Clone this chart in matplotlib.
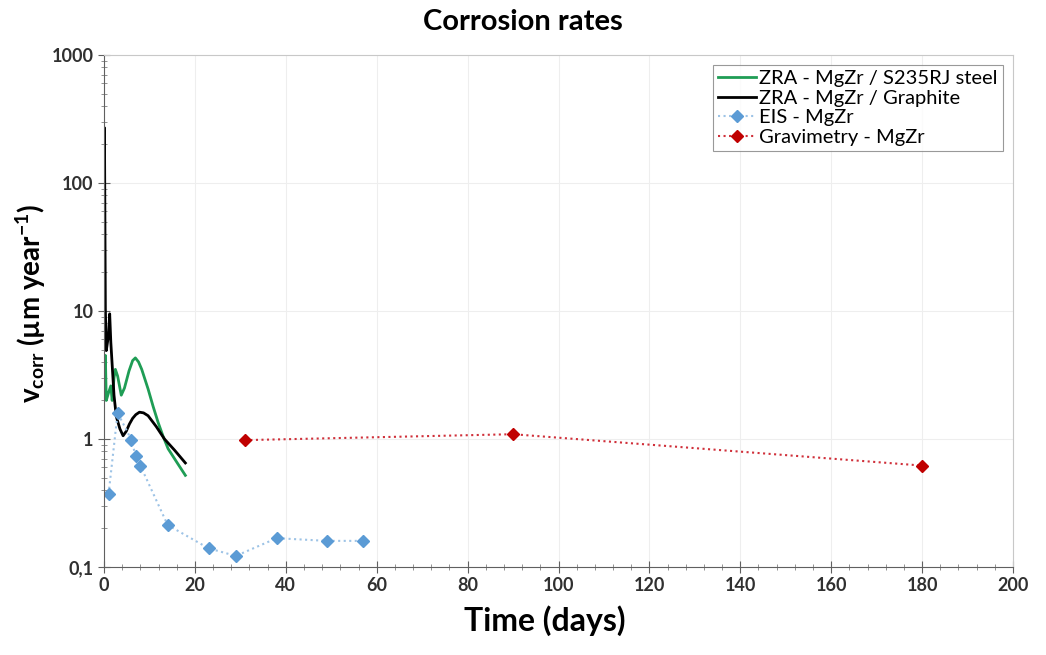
import matplotlib.pyplot as plt
from matplotlib.ticker import FixedLocator, MultipleLocator, LogLocator, NullFormatter

plt.rcParams['font.family'] = ['Lato', 'DejaVu Sans']
plt.rcParams['mathtext.fontset'] = 'custom'
plt.rcParams['mathtext.rm'] = 'Lato:bold'
plt.rcParams['mathtext.it'] = 'Lato:bold'
plt.rcParams['mathtext.bf'] = 'Lato:bold'

# ZRA - MgZr / S235RJ steel (green)
zra_steel_days = [0.0, 0.3, 0.5, 1.0, 1.5, 1.8, 2.2, 2.5, 3.0, 3.8, 4.5, 5.5, 6.3, 6.9, 7.6, 8.3, 9.7, 10.8, 11.9, 13.0, 14.1, 16.0, 17.9]
zra_steel_vals = [2.2, 4.5, 2.0, 2.3, 2.6, 2.0, 3.0, 3.5, 3.1, 2.2, 2.5, 3.4, 4.1, 4.3, 4.0, 3.5, 2.46, 1.8, 1.35, 1.05, 0.84, 0.66, 0.52]

# ZRA - MgZr / Graphite (black)
zra_graph_days = [0.0, 0.1, 0.3, 0.5, 1.0, 1.25, 1.5, 2.2, 2.7, 3.5, 4.2, 4.9, 5.6, 6.3, 7.0, 7.8, 8.7, 9.7, 11.5, 13.3, 15.5, 17.9]
zra_graph_vals = [5.0, 270, 10.4, 4.9, 6.5, 9.5, 5.7, 2.2, 1.5, 1.2, 1.06, 1.15, 1.31, 1.45, 1.55, 1.62, 1.6, 1.52, 1.25, 1.0, 0.82, 0.65]

# EIS - MgZr (blue)
eis_days = [1, 3, 6, 7, 8, 14, 23, 29, 38, 49, 57]
eis_vals = [0.37, 1.6, 0.99, 0.73, 0.62, 0.213, 0.14, 0.122, 0.168, 0.16, 0.16]

# Gravimetry - MgZr (red)
grav_days = [31, 90, 180]
grav_vals = [0.98, 1.09, 0.62]

fig = plt.figure(figsize=(10.46, 6.55), dpi=100)
ax = fig.add_axes([104 / 1046, 88 / 655, 909 / 1046, 512 / 655])

ax.plot(zra_steel_days, zra_steel_vals, color='#1f9d55', lw=2.0, label='ZRA - MgZr / S235RJ steel')
ax.plot(zra_graph_days, zra_graph_vals, color='black', lw=2.0, label='ZRA - MgZr / Graphite')
ax.plot(eis_days, eis_vals, color='#9dc3e6', ls=':', lw=1.5, marker='D', ms=6,
        mfc='#5b9bd5', mec='#5b9bd5', label='EIS - MgZr')
ax.plot(grav_days, grav_vals, color='#d0303a', ls=':', lw=1.5, marker='D', ms=6,
        mfc='#c00000', mec='#c00000', label='Gravimetry - MgZr')

ax.set_yscale('log')
ax.set_ylim(0.1, 1000)
ax.set_xlim(0, 200)
ax.xaxis.set_major_locator(MultipleLocator(20))
ax.xaxis.set_minor_locator(MultipleLocator(4))
ax.yaxis.set_major_locator(FixedLocator([0.1, 1, 10, 100, 1000]))
ax.yaxis.set_minor_locator(LogLocator(base=10, subs=range(2, 10)))
ax.yaxis.set_minor_formatter(NullFormatter())
ax.set_yticklabels(['0,1', '1', '10', '100', '1000'])

ax.tick_params(axis='both', which='major', labelsize=13, direction='inout', length=8, color='#606060')
ax.tick_params(axis='both', which='minor', direction='inout', length=5, color='#808080')
for lbl in ax.get_xticklabels() + ax.get_yticklabels():
    lbl.set_fontweight('bold')
    lbl.set_color('#303030')

ax.grid(True, which='major', color='#eeeeee', lw=0.8)
for side in ['top', 'right']:
    ax.spines[side].set_color('#c8c8c8')
for side in ['left', 'bottom']:
    ax.spines[side].set_color('#606060')

fig.text(0.5, 1 - 22 / 655, 'Corrosion rates', fontsize=21, fontweight='bold', ha='center', va='center')
ax.set_xlabel('Time (days)', fontsize=23, fontweight='bold')
ax.xaxis.set_label_coords(0.485, -0.075)
ax.set_ylabel(r'$v_{\mathrm{corr}}$ (µm year$^{\mathrm{-1}}$)', fontsize=20, fontweight='bold')
ax.yaxis.set_label_coords(-0.062, 0.515)

leg = ax.legend(loc='upper right', fontsize=14.5, frameon=True, fancybox=False,
                edgecolor='#808080', handlelength=1.9, borderpad=0.25, labelspacing=0.12,
                handletextpad=0.15, borderaxespad=0.5)
leg.get_frame().set_linewidth(0.8)

fig.savefig('out.png', dpi=100)
